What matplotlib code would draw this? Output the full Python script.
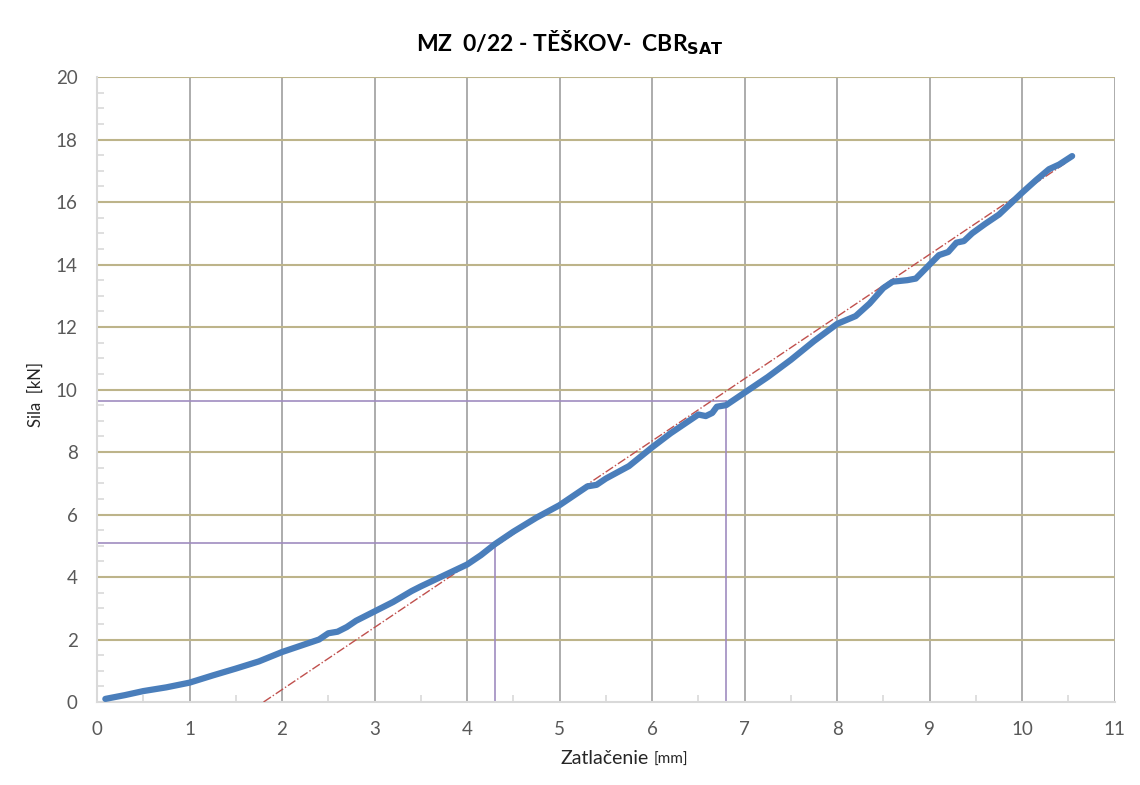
import matplotlib
matplotlib.use('Agg')
import matplotlib.pyplot as plt
from matplotlib.ticker import MultipleLocator

plt.rcParams['font.family'] = ['Lato', 'DejaVu Sans']

# measured curve: penetration [mm] vs force [kN]
zatlacenie = [0.09, 0.3, 0.5, 0.75, 1.0, 1.25, 1.5, 1.75, 2.0, 2.2, 2.4, 2.5, 2.6, 2.7,
              2.8, 3.0, 3.2, 3.4, 3.5, 3.75, 4.0, 4.15, 4.3, 4.5, 4.75, 5.0, 5.2, 5.3,
              5.4, 5.5, 5.75, 6.0, 6.2, 6.35, 6.5, 6.58, 6.65, 6.7, 6.8, 7.0, 7.25, 7.5,
              7.75, 8.0, 8.2, 8.35, 8.5, 8.6, 8.76, 8.85, 9.0, 9.1, 9.2, 9.29, 9.37,
              9.46, 9.6, 9.75, 10.0, 10.15, 10.29, 10.4, 10.54]
sila = [0.1, 0.22, 0.35, 0.47, 0.62, 0.85, 1.07, 1.3, 1.6, 1.8, 2.0, 2.2, 2.25, 2.4,
        2.6, 2.9, 3.2, 3.55, 3.7, 4.05, 4.4, 4.7, 5.05, 5.45, 5.9, 6.3, 6.7, 6.9,
        6.95, 7.15, 7.55, 8.15, 8.6, 8.9, 9.2, 9.15, 9.25, 9.45, 9.5, 9.9, 10.4, 10.95,
        11.55, 12.1, 12.35, 12.75, 13.25, 13.45, 13.5, 13.55, 14.0, 14.3, 14.4, 14.7, 14.75,
        15.0, 15.3, 15.6, 16.3, 16.7, 17.05, 17.2, 17.47]

tangent_x = [1.8, 10.47]
tangent_y = [0.0, 17.25]

# CBR read-offs
odcit_x = [4.3, 6.8]
odcit_y = [5.09, 9.62]

fig = plt.figure(figsize=(11.4, 7.85), dpi=100)
ax = fig.add_axes([0.0851, 0.1057, 0.8927, 0.7962])

ax.set_xlim(0, 11)
ax.set_ylim(0, 20)
ax.xaxis.set_major_locator(MultipleLocator(1))
ax.xaxis.set_minor_locator(MultipleLocator(0.5))
ax.yaxis.set_major_locator(MultipleLocator(2))
ax.yaxis.set_minor_locator(MultipleLocator(0.5))

for x in range(1, 12):
    ax.axvline(x, color='#A6A6A6', lw=1.3, zorder=1)
for y in range(2, 21, 2):
    ax.axhline(y, color='#BDB48A', lw=1.5, zorder=1)

for xx, yy in zip(odcit_x, odcit_y):
    ax.plot([0, xx], [yy, yy], color='#A08CC0', lw=1.2, zorder=2)
    ax.plot([xx, xx], [0, yy], color='#A08CC0', lw=1.2, zorder=2)

ax.plot(tangent_x, tangent_y, color='#C0504D', lw=1.0, ls='-.', zorder=3)
ax.plot(zatlacenie, sila, color='#4A7EBB', lw=4.5, solid_capstyle='round',
        solid_joinstyle='round', zorder=4)

for s in ['top', 'right']:
    ax.spines[s].set_visible(False)
for s in ['left', 'bottom']:
    ax.spines[s].set_color('#D9D9D9')
    ax.spines[s].set_linewidth(1.5)

ax.tick_params(axis='both', which='major', length=0, labelsize=13.5,
               labelcolor='#595959')
ax.tick_params(axis='both', which='minor', direction='in', length=5,
               color='#D9D9D9', width=1.2)
ax.tick_params(axis='x', which='major', pad=14)
ax.tick_params(axis='y', which='major', pad=14)

fig.text(0.5, 0.946, r'MZ  0/22 - TĚŠKOV-  CBR$_{\mathbf{SAT}}$', ha='center', va='center',
         fontsize=16.5, fontweight='bold', color='black')
fig.text(0.5695, 0.027, 'Zatlačenie', ha='right', va='baseline', fontsize=14, color='#262626')
fig.text(0.5735, 0.027, '[mm]', ha='left', va='baseline', fontsize=11, color='#262626')
fig.text(0.031, 0.497, 'Sila  [kN]', ha='center', va='center', rotation=90,
         fontsize=12, color='#262626')

fig.savefig('out.png', dpi=100)
